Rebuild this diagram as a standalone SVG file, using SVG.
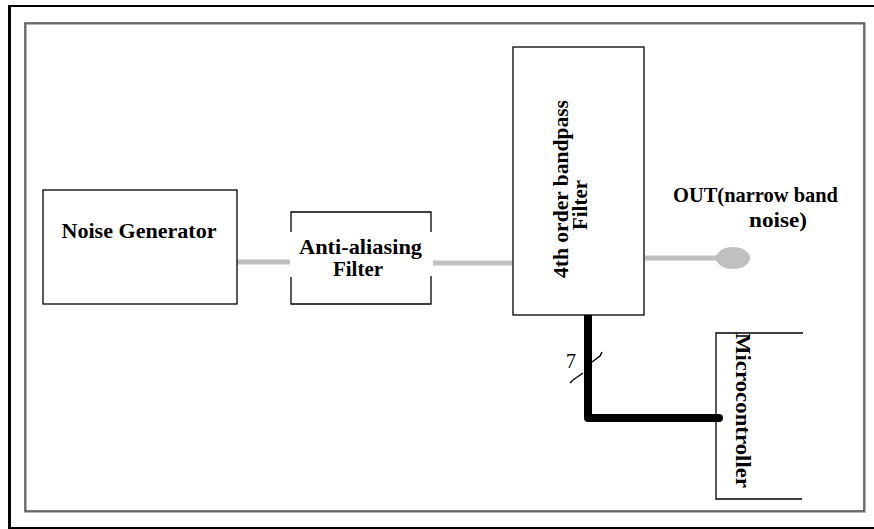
<svg xmlns="http://www.w3.org/2000/svg" width="874" height="529" viewBox="0 0 874 529">
<style>
.box{fill:#fff;stroke:#000;stroke-width:1.3}
.t{font-family:"Liberation Serif","Times New Roman",serif;font-weight:bold;font-size:21px;fill:#000}
.gray{stroke:#c0c0c0;stroke-width:5;fill:none}
</style>
<rect width="874" height="529" fill="#fff"/>
<g id="frame">
<line x1="9.5" y1="5" x2="9.5" y2="529" stroke="#000" stroke-width="3"/>
<line x1="8" y1="6" x2="874" y2="6" stroke="#000" stroke-width="2"/>
<line x1="8" y1="528" x2="874" y2="528" stroke="#000" stroke-width="2"/>
<rect x="25.5" y="23.5" width="839" height="488" fill="none" stroke="#9a9a9a" stroke-width="2.5"/>
<rect x="25" y="23" width="839" height="488" fill="none" stroke="#3a3a3a" stroke-width="1"/>
</g>
<g id="connectors">
<line class="gray" x1="232" y1="262" x2="290" y2="262"/>
<line class="gray" x1="433" y1="263" x2="512" y2="263"/>
<line class="gray" x1="645" y1="258" x2="722" y2="258"/>
<ellipse cx="733" cy="258" rx="17" ry="11" fill="#c0c0c0"/>
<polyline points="588,314 588,418 719,418" fill="none" stroke="#000" stroke-width="8" stroke-linejoin="round" stroke-linecap="round"/>
<path d="M570,383 L573,380 L583,373" fill="none" stroke="#000" stroke-width="1.5"/>
<path d="M592,362 L600,356 L602,352" fill="none" stroke="#000" stroke-width="1.5"/>
<text x="566" y="368" style="font-family:'Liberation Serif','Times New Roman',serif;font-size:20px;fill:#000">7</text>
</g>
<g id="noise-generator">
<rect class="box" x="43" y="190" width="194" height="114"/>
<text class="t" x="139" y="238" text-anchor="middle" textLength="155" lengthAdjust="spacingAndGlyphs">Noise Generator</text>
</g>
<g id="anti-aliasing">
<path d="M291,232 V212 H431 V232 M291,277 V304 H431 V276" fill="none" stroke="#000" stroke-width="1.3"/>
<text class="t" x="360.5" y="254" text-anchor="middle" textLength="123" lengthAdjust="spacingAndGlyphs">Anti-aliasing</text>
<text class="t" x="358" y="276" text-anchor="middle">Filter</text>
</g>
<g id="bandpass">
<rect class="box" x="513" y="47" width="131" height="268"/>
<text class="t" transform="translate(568,189) rotate(-90)" text-anchor="middle" textLength="178" lengthAdjust="spacingAndGlyphs">4th order bandpass</text>
<text class="t" transform="translate(587,205) rotate(-90)" text-anchor="middle">Filter</text>
</g>
<g id="out">
<text class="t" x="673" y="202" textLength="165" lengthAdjust="spacingAndGlyphs">OUT(narrow band</text>
<text class="t" x="749" y="227" textLength="58" lengthAdjust="spacingAndGlyphs">noise)</text>
</g>
<g id="microcontroller">
<path d="M803,333 H716 V499 H802" fill="none" stroke="#000" stroke-width="1.3"/>
<text class="t" transform="translate(736,333) rotate(90)" textLength="155" lengthAdjust="spacingAndGlyphs">Microcontroller</text>
</g>
</svg>
